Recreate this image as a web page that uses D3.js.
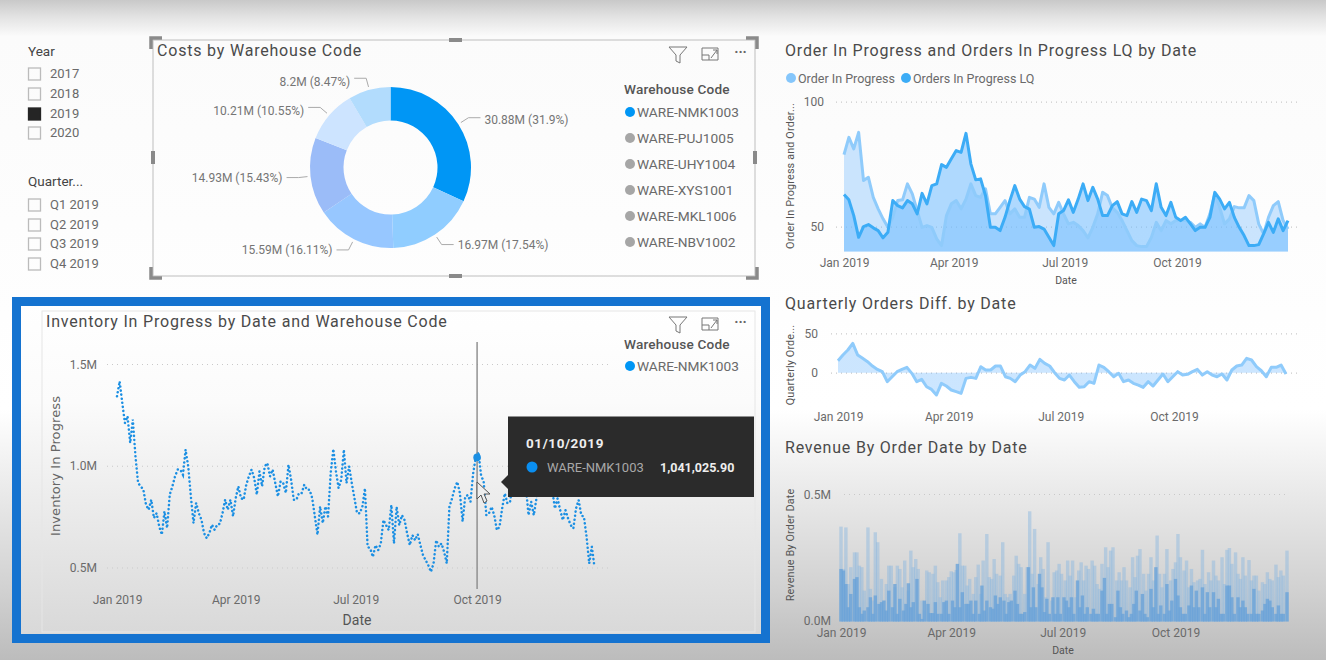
<!DOCTYPE html>
<html><head><meta charset="utf-8">
<script src="https://cdn.jsdelivr.net/npm/d3@7/dist/d3.min.js"></script>
<style>html,body{margin:0;padding:0;background:#fff;overflow:hidden}svg{display:block;font-family:Roboto,sans-serif}</style>
</head><body><svg id="c" width="1326" height="660"></svg>
<script>
const years=["2017","2018","2019","2020"];
const quarters=["Q1 2019","Q2 2019","Q3 2019","Q4 2019"];
const warehouses=["WARE-NMK1003","WARE-PUJ1005","WARE-UHY1004","WARE-XYS1001","WARE-MKL1006","WARE-NBV1002"];
const costs=[30.88,16.97,15.59,14.93,10.21,8.2];
const costPct=["31.9","17.54","16.11","15.43","10.55","8.47"];
const costColors=["#0096f5","#90cdff","#97c7ff","#9bbcf8","#cde4ff","#b2dcfd"];
const orderInProgress=[78.8,85.7,81.1,87.7,68.4,69.7,61.7,57.1,53.1,49.7,53.7,60.4,60.7,67.1,63.1,56.4,49.7,50.4,49.7,45.1,42.4,54.4,59.1,60.4,57.1,61,67.1,62.4,61.7,65.1,55.1,55.1,57.7,60.4,55.1,57.1,53.7,53.7,61.7,61,57.7,67.1,57.7,55.1,59.7,55.1,51.1,
51.7,50.4,48.4,45.5,49.7,55.1,63.7,62.4,57.5,55.7,52.4,48.4,44.4,42.4,42,42,45.7,51.7,48.4,52.4,51.1,52.4,52.4,52.4,51.7,49.7,51.1,49.7,55.1,63.1,57.7,51.1,53.1,58,57.5,57.5,62.4,60.4,51.1,47.1,53.7,58.4,60,52.4,49];
const ordersLQ=[62.8,60.7,54.4,45.7,50,50.8,49.5,48.4,45.5,47.7,60.4,58.4,57.5,60.4,59.1,55.1,63.3,59.1,66.4,67.1,74.8,73.7,77.1,80.4,79.7,87.3,75.1,68.7,69.1,62.4,49.7,49.7,48.4,53.7,60.4,66.4,61,58,57,49.7,50,49,45.7,42.4,55.1,56.4,60.7,
55.7,61,67.1,60.4,65.7,61,54.4,54.4,58.4,60,55.1,54.4,60,55.7,61,60.4,56.4,67.1,57.7,54.4,59.7,53.7,52.4,53.7,51.1,48.4,49.7,49.7,53.7,63.7,61,57.1,59.7,53.7,49.7,46.4,42.4,42.4,42.8,47.1,51.7,47.7,53.1,48.4,52.4];
const quarterlyDiff=[15.2,22.4,28.8,37.2,22.4,18.2,14,8.5,4.2,1.3,-11.4,-5.1,1.3,4.2,6.8,-0.8,-11.4,-8.5,-17.8,-21.2,-28.3,-13.5,-16.9,-22,-24.1,-26.2,-7.2,-5.9,-7.2,7.6,3.4,3.4,8.5,8.5,-5.1,-7.2,-11.4,-3,1.3,9.7,5.5,16.9,11.8,8.5,0,-7.2,-9.3,-3,-11.4,-18.6,-17.8,-11.4,-13.5,9.7,6.8,1.3,-5.1,-0.8,-11.4,-9.3,-13.5,-15.7,-18.6,-11.4,-16.9,-9.3,-1.7,-11.4,-5.1,1.3,-3,-2.1,1.3,4.2,-3,1.3,-3,-5.1,-1.7,-9.3,3.4,8.5,9.7,18.2,16.1,7.6,2.5,-5.1,6.8,6.8,9.7,-1.7];
const inventory=[1.341,1.415,1.309,1.21,1.243,1.112,1.227,1.046,.915,.899,.882,.808,.784,.833,.743,.767,.702,.661,.776,.694,.858,.899,.948,.981,.981,.956,1.079,.997,.849,.718,.817,.767,.735,.669,.644,.669,.71,.685,.71,.715,.767,.833,.784,.833,.751,.841,.899,.841,.833,.907,.948,.981,.94,.858,.972,.899,.997,1.013,.948,.981,.915,.849,.923,.915,.866,1.005,.931,.833,.833,.866,.866,.907,.882,.882,.841,.751,.661,.8,.718,.8,.751,.964,1.082,.972,.89,.931,1.079,.915,.997,.915,.841,.767,
.766,.798,.889,.602,.593,.552,.61,.585,.618,.733,.708,.684,.807,.618,.798,.708,.757,.733,.667,.61,.659,.634,.664,.61,.561,.536,.511,.479,.52,.634,.602,.618,.577,.52,.798,.839,.889,.921,.864,.725,.848,.856,.823,.962,1.041,1.069,.954,.921,.757,.766,.798,.757,.684,.7,.79,.864,.815,.823,.913,.962,.88,.93,.962,.897,.757,.823,.757,.839,.93,.962,.913,.962,.905,.88,.79,.839,.782,.733,.782,.741,.708,.692,.79,.831,.757,.749,.651,.52,.602,.503];
const revenueHigh=[372,206,369,147,213,271,271,219,213,121,369,128,82,350,311,167,82,147,219,219,134,219,206,134,239,121,278,213,245,206,82,43,200,193,187,219,154,95,161,161,174,197,193,202,346,219,219,141,167,108,174,223,108,239,343,174,167,245,187,180,311,108,95,108,180,258,226,213,108,213,432,187,363,147,252,206,95,311,82,193,200,226,187,161,239,
180,239,95,200,232,161,219,206,239,219,147,128,226,291,213,278,291,161,193,161,213,161,134,252,174,258,284,187,121,187,252,161,337,187,134,187,284,161,206,232,343,252,200,239,134,206,154,161,167,281,147,193,161,239,180,161,252,147,281,288,226,271,187,167,252,180,241,161,180,180,121,154,147,193,167,161,223,174,200,180,278];
const revenueLow=[206,200,147,56,108,167,174,56,30,43,56,95,30,102,69,76,82,43,121,56,147,30,89,43,69,150,56,76,167,30,10,82,69,33,33,76,30,30,76,82,30,82,56,226,56,115,69,69,82,30,82,30,141,43,82,56,50,102,69,95,82,30,76,82,121,69,30,30,37,213,56,134,56,187,134,37,89,30,95,30,95,30,95,82,
56,95,30,161,56,102,30,56,30,50,30,30,121,171,30,69,69,17,121,56,30,43,17,30,69,121,43,108,30,17,128,56,213,30,63,30,147,43,82,167,102,56,30,30,63,141,56,121,56,134,30,115,56,115,56,89,30,30,141,141,95,30,95,56,82,56,30,30,128,30,30,43,69,89,82,56,30,63,30,30,115];
const quarterTicks=[new Date(2019,0,1),new Date(2019,3,1),new Date(2019,6,1),new Date(2019,9,1)];
const tooltipDate="01/10/2019", tooltipValue="1,041,025.90";

const svg=d3.select("#c");
const defs=svg.append("defs");
const g=defs.append("linearGradient").attr("id","bg").attr("x1",0).attr("x2",0).attr("y1",0).attr("y2",1);
[[0,"#c9c9c9"],[.025,"#e2e2e2"],[.055,"#fbfbfb"],[.62,"#ffffff"],[.75,"#e9e9e9"],[.9,"#d0d0d0"],[1,"#bcbcbc"]].forEach(s=>g.append("stop").attr("offset",s[0]).attr("stop-color",s[1]));
const g2=defs.append("linearGradient").attr("id","bg2").attr("x1",0).attr("x2",0).attr("y1",0).attr("y2",1);
[[0,"#ffffff"],[.3,"#fbfbfb"],[.55,"#eeeeee"],[1,"#d8d8d8"]].forEach(s=>g2.append("stop").attr("offset",s[0]).attr("stop-color",s[1]));
svg.append("rect").attr("width",1326).attr("height",660).attr("fill","url(#bg)");

const TXT="#6a6a6a",TITLE="#4a4a4a";
function label(x,y,t,o={}){return svg.append("text").attr("x",x).attr("y",y+1.3).attr("dominant-baseline","middle").attr("fill",o.fill||TXT).attr("font-size",o.size||12.5).attr("font-weight",o.weight||400).attr("text-anchor",o.anchor||"start").attr("letter-spacing",o.ls||0).text(t);}
function title(x,y,t){return label(x,y,t,{fill:TITLE,size:16,weight:400,ls:.8});}
function rotLabel(x,y,t,o={}){const s=svg.append("text").attr("transform",`translate(${x},${y}) rotate(-90)`).attr("text-anchor","middle").attr("dominant-baseline","middle").attr("fill",o.fill||"#555").attr("font-size",o.size||10.8).attr("letter-spacing",o.ls||.15).text(t);if(o.family)s.style("font-family",o.family);return s;}
function icons(ox,oy){
  const s=svg.append("g").attr("transform",`translate(${ox},${oy})`).attr("fill","none").attr("stroke","#777").attr("stroke-width",1);
  s.append("path").attr("d","M-9,-7H9L2,1V9L-2,7V1Z");
  s.append("path").attr("d","M24,-6H40V6H24ZM24,1H31V6M33,4L39,-4M35,-4H39V0");
  label(ox+62.5,oy-2,"···",{size:14,fill:"#666",anchor:"middle",weight:700});
}
function timeX(x0,x1){return d3.scaleTime().domain([new Date(2019,0,1),new Date(2019,11,31)]).range([x0,x1]);}
const dayOf=(i,st)=>d3.timeDay.offset(new Date(2019,0,1),i*st);
function xAxis(x,y,size){
  const a=svg.append("g").attr("transform",`translate(0,${y})`).call(d3.axisBottom(x).tickValues(quarterTicks).tickFormat(d3.timeFormat("%b %Y")).tickSize(0));
  a.select(".domain").remove();
  a.attr("font-family",null);
  a.selectAll("text").attr("fill",TXT).attr("font-size",size||12).attr("dy",0).attr("dominant-baseline","middle").attr("y",1.3);
}
function yAxis(yS,vals,fmt,xR,gx0,gx1,size){
  const a=svg.append("g").attr("transform",`translate(${gx1},0)`).call(d3.axisLeft(yS).tickValues(vals).tickFormat(fmt).tickSize(gx1-gx0));
  a.select(".domain").remove();
  a.attr("font-family",null);
  a.selectAll("line").attr("stroke","#c9c9c9").attr("stroke-dasharray","1 4").attr("stroke-width",1.2);
  a.selectAll("text").attr("fill",TXT).attr("font-size",size||12).attr("text-anchor","end").attr("x",xR-gx1).attr("dy",1).attr("dominant-baseline","middle");
}

// ---------- slicers
label(28,51.5,"Year",{fill:"#444",size:13.5});
years.forEach((t,i)=>{const y=[74,94,114,133][i];
  svg.append("rect").attr("x",28.5).attr("y",y-6).attr("width",12).attr("height",12).attr("fill",t==="2019"?"#252525":"none").attr("stroke",t==="2019"?"#252525":"#bbb").attr("stroke-width",1.3);
  label(50,y-.5,t,{size:13});});
label(28,181.5,"Quarter...",{fill:"#444",size:13.5});
quarters.forEach((t,i)=>{const y=[205,225,244,264][i];
  svg.append("rect").attr("x",28.5).attr("y",y-6).attr("width",12).attr("height",12).attr("fill","none").attr("stroke","#bbb").attr("stroke-width",1.3);
  label(50,y-.5,t,{size:13});});

// ---------- donut
svg.append("rect").attr("x",153).attr("y",40).attr("width",602).attr("height",236).attr("fill","none").attr("stroke","#c8c8c8").attr("stroke-width",1.2);
[[153,40],[755,40],[153,276],[755,276]].forEach(c=>{
  const sx=c[0]<300?1:-1,sy=c[1]<100?1:-1;
  svg.append("path").attr("d",`M${c[0]-sx*2},${c[1]+sy*9}V${c[1]-sy*2}H${c[0]+sx*9}`).attr("fill","none").attr("stroke","#8a8a8a").attr("stroke-width",3.5);
});
[[449,38,13,4],[449,274,13,4],[151,151,4,13],[753,151,4,13]].forEach(r=>svg.append("rect").attr("x",r[0]).attr("y",r[1]).attr("width",r[2]).attr("height",r[3]).attr("fill","#8a8a8a"));
title(157,50,"Costs by Warehouse Code");
icons(678,54);
const cx=390.5,cy=167.5,R=80.5;
const pie=d3.pie().sort(null)(costs);
const arc=d3.arc().innerRadius(47).outerRadius(R);
const dg=svg.append("g").attr("transform",`translate(${cx},${cy})`);
dg.selectAll("path").data(pie).join("path").attr("d",arc).attr("fill",(d,i)=>costColors[i]);
pie.forEach((d,i)=>{
  const a=(d.startAngle+d.endAngle)/2,s=Math.sin(a),c=Math.cos(a),side=s>0?1:-1;
  const ex=cx+(R+12)*s,ey=cy-(R+12)*c;
  svg.append("path").attr("d",`M${cx+(R+3)*s},${cy-(R+3)*c}L${ex},${ey}H${ex+side*12}`).attr("fill","none").attr("stroke","#aaa");
  label(ex+side*16,ey+(i>3?3:i===0?2:0),`${costs[i]}M (${costPct[i]}%)`,{anchor:side>0?"start":"end",size:12,fill:"#757575"});
});
label(624,89,"Warehouse Code",{fill:"#555",size:13.6,weight:500,ls:.2});
warehouses.forEach((w,i)=>{const y=112+i*26;
  svg.append("circle").attr("cx",630).attr("cy",y).attr("r",5).attr("fill",i===0?"#0096f5":"#a6a6a6");
  label(637,y,w,{size:13.7,fill:"#6a6a6a"});});

// ---------- inventory panel
svg.append("rect").attr("x",16.5).attr("y",301.5).attr("width",749).attr("height",337).attr("fill","url(#bg2)").attr("stroke","#1573d0").attr("stroke-width",9);
svg.append("rect").attr("x",42).attr("y",311).attr("width",713).attr("height",321).attr("fill","none").attr("stroke","#e6e6e6");
title(46,321,"Inventory In Progress by Date and Warehouse Code");
icons(678,324);
label(624,344,"Warehouse Code",{fill:"#555",size:13.6,weight:500,ls:.2});
svg.append("circle").attr("cx",630).attr("cy",366).attr("r",5).attr("fill","#0096f5");
label(637,366,warehouses[0],{size:13.7,fill:"#6a6a6a"});
const xI=timeX(117,117+364*1.319), yI=d3.scaleLinear().domain([.5,1.5]).range([567.5,364]);
yAxis(yI,[.5,1,1.5],d=>d.toFixed(1)+"M",97,106,608);
xAxis(xI,600);
label(357,620,"Date",{anchor:"middle",size:14,fill:"#555",weight:400});
rotLabel(56,466,"Inventory In Progress",{size:13,fill:"#666",family:"DejaVu Sans",ls:.1});
svg.append("path").datum(inventory).attr("d",d3.line().x((d,i)=>xI(dayOf(i,2))).y(d=>yI(d)))
  .attr("fill","none").attr("stroke","#1b8fe3").attr("stroke-width",2.5).attr("stroke-linecap","round").attr("stroke-dasharray","0.1 4");
const oct1=quarterTicks[3];
svg.append("line").attr("x1",xI(oct1)).attr("x2",xI(oct1)).attr("y1",342).attr("y2",589).attr("stroke","#8a8a8a").attr("stroke-width",1.4);
svg.append("circle").attr("cx",xI(oct1)).attr("cy",yI(1.041025)).attr("r",3.8).attr("fill","#1b8fe3");
svg.append("path").attr("d","M501,482L508,475V489Z").attr("fill","#2b2b2b");
svg.append("rect").attr("x",508).attr("y",416.5).attr("width",246).attr("height",80.5).attr("fill","#2b2b2b");
label(526,443.5,tooltipDate,{fill:"#eee",size:13.5,weight:700,ls:.6});
svg.append("circle").attr("cx",532).attr("cy",467).attr("r",5.5).attr("fill","#0a8ef0");
label(547,467,warehouses[0],{fill:"#a8a8a8",size:13});
label(660,467,tooltipValue,{fill:"#eee",size:12.5,weight:700});
svg.append("path").attr("d","M477,482L477,499L481,495L484,503L487,501L484,494L490,494Z").attr("fill","#eee").attr("stroke","#555").attr("stroke-width",1);

// ---------- orders chart
title(785,50,"Order In Progress and Orders In Progress LQ by Date");
svg.append("circle").attr("cx",791).attr("cy",78).attr("r",5).attr("fill","#85c6fb");
label(798,78,"Order In Progress",{size:12.5});
svg.append("circle").attr("cx",906).attr("cy",78).attr("r",5).attr("fill","#3cacf6");
label(913,78,"Orders In Progress LQ",{size:12.5});
const x1=timeX(844,1288), y1=d3.scaleLinear().domain([40,100]).range([251.6,101.6]);
yAxis(y1,[50,100],d=>d,824,835,1297);
xAxis(x1,263);
label(1066,280,"Date",{anchor:"middle",size:10.5,fill:"#555"});
rotLabel(791,176,"Order In Progress and Order...");
const a1=d3.area().x((d,i)=>x1(dayOf(i,4))).y0(y1(40)).y1(d=>y1(d));
const l1=d3.line().x((d,i)=>x1(dayOf(i,4))).y(d=>y1(d));
svg.append("path").datum(orderInProgress).attr("d",a1).attr("fill","#64b4ff").attr("fill-opacity",.33);
svg.append("path").datum(ordersLQ).attr("d",a1).attr("fill","#70bcff").attr("fill-opacity",.55);
svg.append("path").datum(orderInProgress).attr("d",l1).attr("fill","none").attr("stroke","#8fcbfb").attr("stroke-width",3).attr("stroke-linejoin","round");
svg.append("path").datum(ordersLQ).attr("d",l1).attr("fill","none").attr("stroke","#3cacf6").attr("stroke-width",3).attr("stroke-linejoin","round");

// ---------- quarterly chart
title(785,303,"Quarterly Orders Diff. by Date");
const x2=timeX(838,1286), y2=d3.scaleLinear().domain([0,50]).range([372.7,333.3]);
yAxis(y2,[0,50],d=>d,818,828,1297);
xAxis(x2,417);
rotLabel(791,365,"Quarterly Orde...");
svg.append("path").datum(quarterlyDiff).attr("d",d3.area().x((d,i)=>x2(dayOf(i,4))).y0(y2(0)).y1(d=>y2(d))).attr("fill","#64b4ff").attr("fill-opacity",.33);
svg.append("path").datum(quarterlyDiff).attr("d",d3.line().x((d,i)=>x2(dayOf(i,4))).y(d=>y2(d))).attr("fill","none").attr("stroke","#8fcbfb").attr("stroke-width",3).attr("stroke-linejoin","round");

// ---------- revenue chart
title(785,447,"Revenue By Order Date by Date");
const x3=timeX(841,1287), y3=d3.scaleLinear().domain([0,500]).range([621.5,494]);
yAxis(y3,[500],d=>"0.5M",831,840,1285);
label(831,621,"0.0M",{anchor:"end",size:12});
xAxis(x3,633);
label(1063,650,"Date",{anchor:"middle",size:10.5,fill:"#555"});
rotLabel(791,545,"Revenue By Order Date");
function bars(arr,fill,op,w){
  const st=364/(arr.length-1);
  svg.append("g").selectAll("rect").data(arr).join("rect")
    .attr("x",(d,i)=>x3(dayOf(i,st))-w/2).attr("width",w)
    .attr("y",d=>y3(d)).attr("height",d=>y3(0)-y3(d)).attr("fill",fill).attr("fill-opacity",op);
}
bars(revenueHigh,"#8fb9e0",.5,3.4);
bars(revenueLow,"#6aa3d8",.8,3.4);
</script></body></html>
